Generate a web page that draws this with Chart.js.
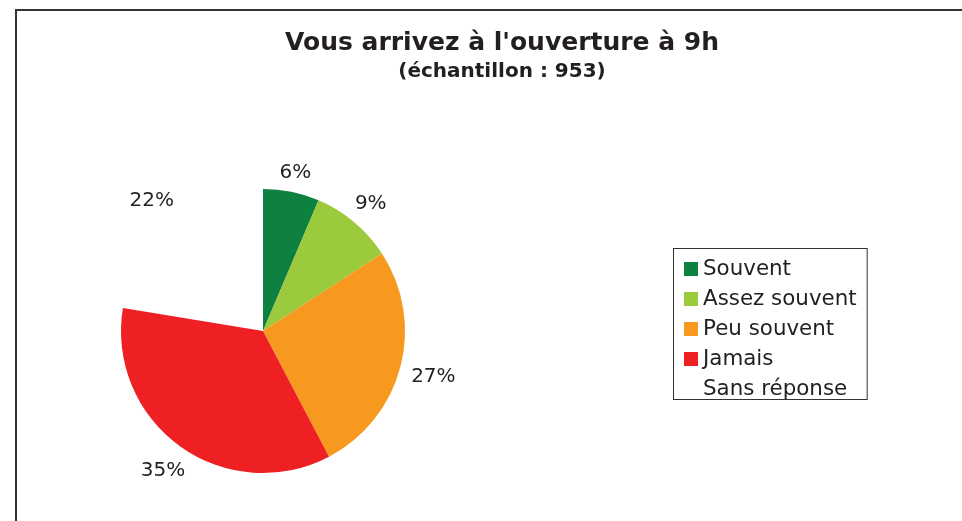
<!DOCTYPE html>
<html>
<head>
<meta charset="utf-8">
<script src="https://cdn.jsdelivr.net/npm/chart.js@4"></script>
<style>
    html, body { margin: 0; padding: 0; background: #fff; overflow: hidden; }
    #frame {
        position: absolute; left: 15px; top: 9px; width: 960px; height: 520px;
        border-left: 2px solid #333; border-top: 2px solid #333;
    }
    #chart1 { position: absolute; left: 0; top: 0; }
</style>
</head>
<body>
<div id="frame"></div>
<!-- canvas is a little wider than the window so the title centres where the original does -->
<canvas id="chart1" width="1004" height="521"></canvas>
<script>
const categories = ['Souvent', 'Assez souvent', 'Peu souvent', 'Jamais', 'Sans réponse'];
// shares in % (labels show them rounded)
const percentValues = [6.4, 9.4, 26.5, 35.3, 22.4];
const sliceColors = ['#0e8140', '#9bca3c', '#f7991f', '#ee2024', 'rgba(255,255,255,0)'];

const FONT = "'DejaVu Sans', Verdana, sans-serif";

// percent labels outside each slice
const outsideLabels = {
    id: 'outsideLabels',
    afterDatasetsDraw(chart) {
        const ctx = chart.ctx;
        const meta = chart.getDatasetMeta(0);
        ctx.save();
        ctx.font = '20px ' + FONT;
        ctx.fillStyle = '#231f20';
        ctx.textAlign = 'center';
        ctx.textBaseline = 'middle';
        meta.data.forEach((arc, i) => {
            const p = arc.getProps(['x', 'y', 'startAngle', 'endAngle', 'outerRadius'], true);
            const mid = (p.startAngle + p.endAngle) / 2;
            const text = Math.round(percentValues[i]) + '%';
            const halfW = ctx.measureText(text).width / 2;
            const halfH = 6;
            const cos = Math.cos(mid), sin = Math.sin(mid);
            const r = p.outerRadius + 11 + halfW * Math.abs(cos) + halfH * Math.abs(sin);
            ctx.fillText(text, p.x + cos * r, p.y + sin * r + 1);
        });
        ctx.restore();
    }
};

// boxed legend like the original spreadsheet chart
const boxedLegend = {
    id: 'boxedLegend',
    afterDraw(chart, args, opts) {
        const ctx = chart.ctx;
        const ds = chart.data.datasets[0];
        ctx.save();
        ctx.font = '21.4px ' + FONT;
        let maxW = 0;
        chart.data.labels.forEach(l => { maxW = Math.max(maxW, ctx.measureText(l).width); });
        const w = opts.padLeft + 14 + 5 + maxW + 10;
        const h = chart.data.labels.length * opts.rowH + 1;
        ctx.strokeStyle = '#333';
        ctx.lineWidth = 1;
        ctx.strokeRect(opts.x + 0.5, opts.y + 0.5, w, h);
        ctx.textBaseline = 'middle';
        chart.data.labels.forEach((l, i) => {
            const cy = opts.y + 21 + i * opts.rowH;
            ctx.fillStyle = ds.backgroundColor[i];
            ctx.fillRect(opts.x + opts.padLeft, cy - 7, 14, 14);
            ctx.fillStyle = '#231f20';
            ctx.fillText(l, opts.x + opts.padLeft + 19, cy);
        });
        ctx.restore();
    }
};

new Chart(document.getElementById('chart1').getContext('2d'), {
    type: 'pie',
    data: {
        labels: categories,
        datasets: [{
            data: percentValues,
            backgroundColor: sliceColors,
            borderWidth: 0
        }]
    },
    options: {
        responsive: false,
        animation: false,
        layout: { padding: { left: 0, right: 0, top: 0, bottom: 48 } },
        plugins: {
            title: {
                display: true,
                text: "Vous arrivez à l'ouverture à 9h",
                color: '#231f20',
                font: { family: FONT, size: 25, weight: 'bold' },
                padding: { top: 28, bottom: 0 }
            },
            subtitle: {
                display: true,
                text: '(échantillon : 953)',
                color: '#231f20',
                font: { family: FONT, size: 20, weight: 'bold' },
                padding: { top: 2, bottom: 105 }
            },
            // legend is only used to reserve the right-hand space
            legend: {
                display: true,
                position: 'right',
                labels: { filter: () => false, padding: 468 }
            },
            tooltip: { enabled: false },
            boxedLegend: { x: 673, y: 248, rowH: 30, padLeft: 11 }
        }
    },
    plugins: [outsideLabels, boxedLegend]
});
</script>
</body>
</html>
